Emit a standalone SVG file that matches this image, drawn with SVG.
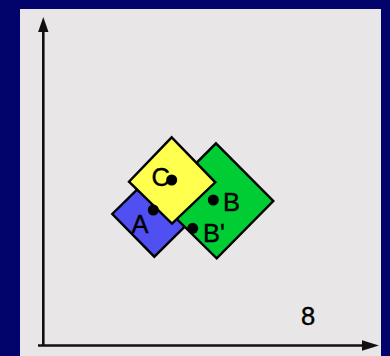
<svg xmlns="http://www.w3.org/2000/svg" width="390" height="356" viewBox="0 0 390 356">
  <style>
    .sq { stroke: #000; stroke-width: 2.4; stroke-linejoin: miter; }
    .dot { fill: #000; }
    .lbl { font-family: "Liberation Sans", Arial, sans-serif; font-size: 25.5px; fill: #000; stroke: #000; stroke-width: 0.4; }
    .axis { stroke: #111; stroke-width: 2.6; fill: none; }
  </style>
  <rect x="0" y="0" width="390" height="356" fill="#03036c"/>
  <rect x="20" y="9" width="361" height="347" fill="#e8e6e6"/>

  <g id="axes">
    <line class="axis" x1="43.3" y1="30" x2="43.3" y2="345.5"/>
    <polygon points="43.3,17 48.5,32 38.1,32" fill="#111"/>
    <line class="axis" x1="38" y1="345.5" x2="364" y2="345.5"/>
    <polygon points="379,345.5 362,340.2 362,350.8" fill="#111"/>
  </g>

  <g id="nodeA">
    <polygon class="sq" fill="#4f4ff2" points="155,172 197,214.5 154.3,256.7 112.3,214"/>
  </g>
  <g id="nodeB">
    <polygon class="sq" fill="#00cc33" points="216,143.3 273.3,201 216.7,258.3 158.5,201"/>
  </g>
  <g id="nodeC">
    <polygon class="sq" fill="#ffff4d" points="171.7,137.3 215.3,182.3 172,223.5 129,181.7"/>
  </g>

  <g id="pointA">
    <circle class="dot" cx="153.3" cy="210" r="5.5"/>
    <text class="lbl" x="131.5" y="232.5">A</text>
  </g>
  <g id="pointB">
    <circle class="dot" cx="213.3" cy="200" r="5.5"/>
    <text class="lbl" x="223" y="210.5">B</text>
  </g>
  <g id="pointBprime">
    <circle class="dot" cx="192.7" cy="228.3" r="5.5"/>
    <text class="lbl" x="203" y="241.5">B'</text>
  </g>
  <g id="pointC">
    <text class="lbl" x="151.5" y="185.5">C</text>
    <circle class="dot" cx="171.7" cy="180" r="5.5"/>
  </g>

  <g id="scale">
    <text class="lbl" x="301" y="324.8">8</text>
  </g>
</svg>
